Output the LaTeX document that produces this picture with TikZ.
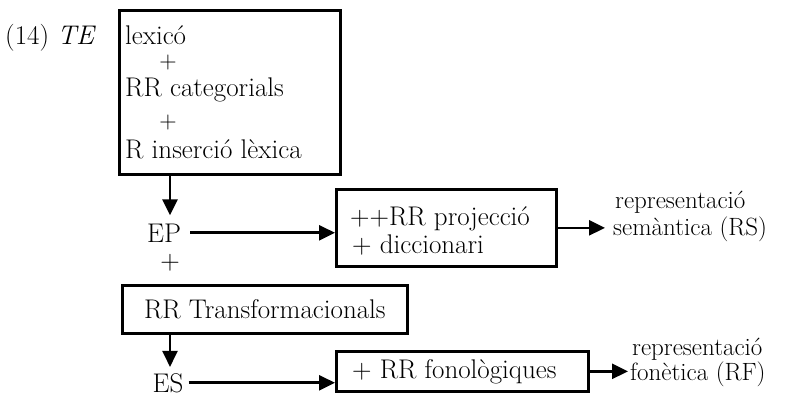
\documentclass[tikz,border=0pt]{standalone}
\usetikzlibrary{arrows.meta}
\begin{document}
\begin{tikzpicture}[x=1pt,y=-1pt,
  txt/.style={inner sep=0pt, font=\fontsize{27}{30}\selectfont},
  ptxt/.style={inner sep=0pt, font=\fontsize{24}{26}\selectfont},
  rtxt/.style={inner sep=0pt, font=\fontsize{25}{28}\selectfont, anchor=base west},
  bx/.style={draw, line width=2.7pt, inner sep=0pt},
  arr/.style={line width=2.6pt, -{Triangle[length=16pt,width=15pt]}}]
\useasboundingbox (0,0) rectangle (788,399);

% top box
\node[bx, anchor=north west, minimum width=221pt, minimum height=164pt] (b1) at (118,9) {};
\node[txt, anchor=base west] (lbl) at (5,44) {(14) \textit{TE}};
\node[txt, anchor=base west] (lex) at (125,44) {lexicó};
\node[ptxt] (pa) at (168,63) {+};
\node[txt, anchor=base west] (cat) at (125,96) {RR categorials};
\node[ptxt] (pb) at (168,123) {+};
\node[txt, anchor=base west] (ins) at (125,158) {R inserció lèxica};

% EP
\node[txt, anchor=base] (ep) at (164,242) {EP};
\node[txt] (pc) at (170,263) {+};
\draw[arr, shorten >=8pt] (b1.south -| pc) -- (ep.north -| pc);

% projection box
\node[bx, anchor=north west, minimum width=220pt, minimum height=77pt] (b2) at (335,188) {};
\node[txt, anchor=base west] (proj) at (350,225) {++RR projecció};
\node[txt, anchor=base west] (dic) at (352,253) {+ diccionari};
\draw[arr, shorten <=9pt] (ep.east) -- (b2.west |- ep.east);

% RS
\node[rtxt] (rs1) at (615,208) {representació};
\node[rtxt] (rs2) at (613,235) {semàntica (RS)};
\draw[arr, shorten >=10pt] (b2.east) -- (rs1.west |- b2.east);

% transformations
\node[bx, anchor=north west, minimum width=285pt, minimum height=48pt] (b3) at (121,284) {};
\node[txt] (tr) at (b3.center) {RR Transformacionals};
\node[txt, anchor=base] (es) at (168,392) {ES};
\draw[arr, shorten >=6pt] (b3.south -| pc) -- (es.north -| pc);

% phonology box
\node[bx, anchor=north west, minimum width=252pt, minimum height=40pt] (b4) at (335,350) {};
\node[txt, anchor=base west] (fon) at (352,378) {+ RR fonològiques};
\draw[arr, shorten <=5pt] (es.east) -- (b4.west |- es.east);

% RF
\node[rtxt] (rf1) at (632,355) {representació};
\node[rtxt] (rf2) at (630,380) {fonètica (RF)};
\draw[arr, shorten >=4pt] (b4.east) -- (rf1.west |- b4.east);
\end{tikzpicture}
\end{document}
